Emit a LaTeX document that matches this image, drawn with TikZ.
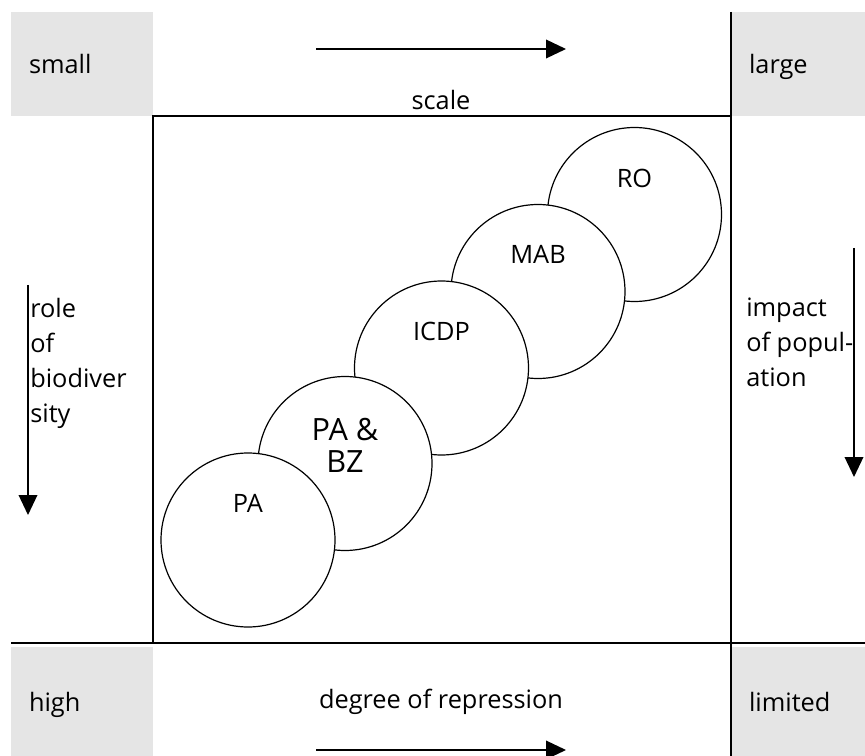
\documentclass[tikz,border=0pt]{standalone}
\usepackage{fontspec}
\setmainfont{Open Sans}
\usetikzlibrary{arrows.meta}

\begin{document}
\begin{tikzpicture}[
    x=0.75pt, y=-0.75pt,
    txt/.style ={
        font=\fontsize{19}{26.25}\selectfont,
        inner sep=0pt
    },
    greybox/.style ={
        txt,
        fill=gray!20,
        inner xsep=13.5pt,
        text height=17pt,
        text depth=2pt,
        align=left
    },
    site/.style ={
        circle,
        draw=black,
        fill=white,
        line width=0.9pt,
        minimum size=130.5pt,
        inner sep=0pt
    },
    sitetxt/.style ={txt, align=center},
    pabz/.style ={font=\fontsize{23}{24.4}\selectfont, inner sep=0pt, align=center},
    frame/.style ={line width=1.5pt},
    dir/.style ={-{Triangle[length=15pt,width=14pt]}, line width=1.1pt}
    ]
    \useasboundingbox (0,0) rectangle (865,756);

    % grey corner boxes
    \node[greybox, text width=79.5pt, minimum height=78pt] (small) at (82,64) {small};
    \node[greybox, text width=73.5pt, minimum height=78pt] (large) at (798,64) {large};
    \node[greybox, text width=79.5pt, minimum height=81.75pt] (high) at (82,701.5) {high};
    \node[greybox, text width=73.5pt, minimum height=81.75pt] (limited) at (798,701.5) {limited};

    % frame
    \draw[frame] (153,643) -- (153,116) -- (731,116);
    \draw[frame] (731,12) -- (731,756);
    \draw[frame] (11,643) -- (865,643);

    % axis texts
    \node[txt] (scale) at (441,100) {scale};
    \node[txt] (repression) at (441,702) {degree of repression};
    \node[txt, anchor=north west, align=left] (role) at (30,298) {role\\of\\biodiver\\sity};
    \node[txt, anchor=north west, align=left] (impact) at (746,298) {impact\\of popul-\\ation};

    % arrows
    \coordinate (top0) at (316,49);
    \coordinate (top1) at (566,49);
    \coordinate (bot0) at (316,750);
    \coordinate (bot1) at (566,750);
    \coordinate (left0) at (28,285);
    \coordinate (left1) at (28,515);
    \coordinate (right0) at (854,248);
    \coordinate (right1) at (854,477);
    \foreach \src/ \dst in {top0/top1, bot0/bot1, left0/left1, right0/right1}
        \draw[dir] (\src) -- (\dst);

    % circles, back to front
    \foreach \x/ \pos in {{RO/(634.5,214.5)}, {MAB/(538,291.5)}, {ICDP/(441.5,368)},
                          {PABZ/(345,463.5)}, {PA/(248,540)}}
        \node[site] (\x) at \pos {};

    \foreach \x/ \lbl/ \sty in {RO/RO/sitetxt, MAB/MAB/sitetxt, ICDP/ICDP/sitetxt,
                                PABZ/{PA \&\\BZ}/pabz, PA/PA/sitetxt}
        \node[\sty, anchor=north] (\x-txt) at ([yshift=34.5pt]\x.center) {\lbl};

\end{tikzpicture}
\end{document}
